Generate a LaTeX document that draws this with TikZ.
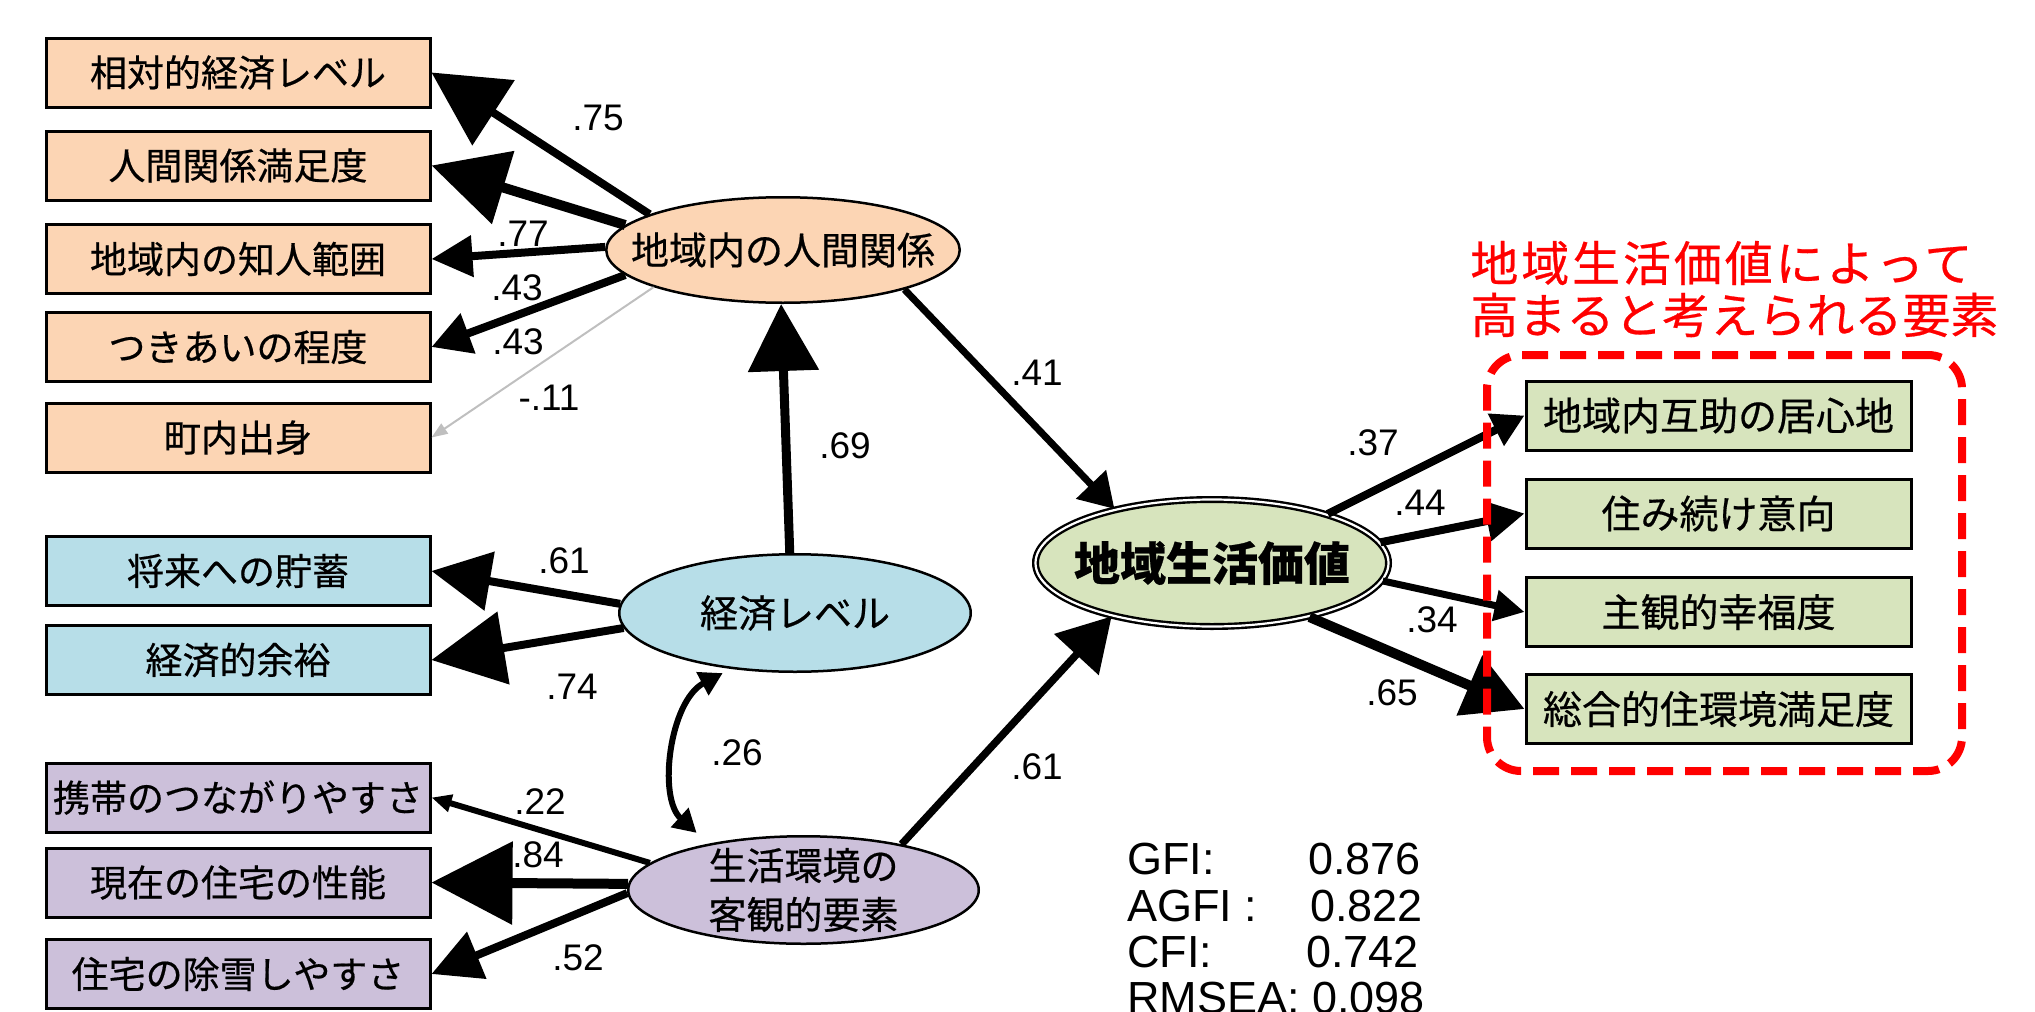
\documentclass[tikz,border=0pt]{standalone}
\usepackage{fontspec}
\setmainfont{Liberation Sans}
\newfontfamily\cjk[FakeBold=0.5]{Noto Sans CJK JP}
\usetikzlibrary{arrows.meta,shapes.geometric}
\definecolor{peach}{RGB}{252,213,180}
\definecolor{lblue}{RGB}{183,222,232}
\definecolor{lpurp}{RGB}{204,192,218}
\definecolor{lgreen}{RGB}{215,228,189}
\definecolor{gr}{RGB}{191,191,191}
\tikzset{
  box/.style={draw,line width=1.5pt,minimum width=192pt,minimum height=34.5pt,inner sep=0pt,font=\cjk\fontsize{18.5}{22}\selectfont},
  rbox/.style={box,fill=lgreen,minimum width=192.5pt,font=\cjk\fontsize{19.5}{23}\selectfont},
  lat/.style={ellipse,draw,line width=1.25pt,inner sep=0pt,font=\cjk\fontsize{19}{23}\selectfont},
  coef/.style={font=\fontsize{18.5}{22}\selectfont,inner sep=0pt},
  stat/.style={font=\fontsize{22.5}{27}\selectfont,inner sep=0pt,anchor=base west},
  redtitle/.style={font=\cjk\fontsize{24}{28}\selectfont,text=red,inner sep=0pt,anchor=west},
  ar/.style n args={3}{line width=#1,-{Triangle[length=#2,width=#3]}}
}
\begin{document}
\begin{tikzpicture}[x=0.5pt,y=-0.5pt]
\useasboundingbox (0,0) rectangle (2035,1012);

% observed variables (left)
\node[box,fill=peach] (a1) at (238,72.5) {相対的経済レベル};
\node[box,fill=peach] (a2) at (238,165.5) {人間関係満足度};
\node[box,fill=peach] (a3) at (238,259) {地域内の知人範囲};
\node[box,fill=peach] (a4) at (238,347) {つきあいの程度};
\node[box,fill=peach] (a5) at (238,437.5) {町内出身};
\node[box,fill=lblue] (b1) at (238,571) {将来への貯蓄};
\node[box,fill=lblue] (b2) at (238,660) {経済的余裕};
\node[box,fill=lpurp] (c1) at (238,797.5) {携帯のつながりやすさ};
\node[box,fill=lpurp] (c2) at (238,882.5) {現在の住宅の性能};
\node[box,fill=lpurp] (c3) at (238,974) {住宅の除雪しやすさ};

% observed variables (right)
\node[rbox] (r1) at (1718.5,415.5) {地域内互助の居心地};
\node[rbox] (r2) at (1718.5,513.5) {住み続け意向};
\node[rbox] (r3) at (1718.5,612) {主観的幸福度};
\node[rbox] (r4) at (1718.5,709) {総合的住環境満足度};

% latent variables
\node[lat,fill=peach,minimum width=176.75pt,minimum height=52.75pt] (A) at (783,250) {\makebox[0pt]{地域内の人間関係}};
\node[lat,fill=lblue,minimum width=175.75pt,minimum height=58.75pt] (B) at (795,613) {\makebox[0pt]{経済レベル}};
\node[lat,fill=lpurp,minimum width=175.25pt,minimum height=53.75pt,
  label={[name=Ct,font=\cjk\fontsize{19}{24.5}\selectfont,align=center,inner sep=0pt]center:{生活環境の\\客観的要素}}] (C) at (803.5,890) {};
\node[ellipse,draw,fill=lgreen,line width=1.2pt,double,double distance=1.1pt,inner sep=0pt,
  minimum width=176.5pt,minimum height=63.5pt,font=\cjk\bfseries\fontsize{23}{27}\selectfont] (D) at (1212,563) {\makebox[0pt]{地域生活価値}};

% coefficients
\node[coef] (l75) at (598,118) {.75};
\node[coef] (l77) at (523,234) {.77};
\node[coef] (l43a) at (517,288) {.43};
\node[coef] (l43b) at (518,342) {.43};
\node[coef] (l11) at (549,398) {-.11};
\node[coef] (l69) at (845,446) {.69};
\node[coef] (l41) at (1037,373) {.41};
\node[coef] (l61a) at (564,561) {.61};
\node[coef] (l74) at (572,687) {.74};
\node[coef] (l26) at (737,753) {.26};
\node[coef] (l22) at (540,802) {.22};
\node[coef] (l84) at (538,855) {.84};
\node[coef] (l52) at (578,958) {.52};
\node[coef] (l61b) at (1037,767) {.61};
\node[coef] (l37) at (1373,443) {.37};
\node[coef] (l44) at (1420,503) {.44};
\node[coef] (l34) at (1432,620) {.34};
\node[coef] (l65) at (1392,693) {.65};

% paths
\draw[ar={4pt}{37pt}{38pt}] (A.165) -- (a1.east);
\draw[ar={5pt}{37.5pt}{37pt}] (A.171) -- (a2.east);
\draw[ar={4pt}{20.5pt}{20pt}] (A.179) -- (a3.east);
\draw[ar={4pt}{19.5pt}{20.5pt}] (A.189) -- (a4.east);
\draw[ar={1pt}{8pt}{6pt},draw=gr] (A.196) -- (a5.east);
\draw[ar={4.5pt}{33.5pt}{34.5pt}] (B.95) -- (A.268);
\draw[ar={3.5pt}{17pt}{20pt}] (A.342) -- (D.151);
\draw[ar={4pt}{29.5pt}{29pt}] (B.177) -- (b1.east);
\draw[ar={4pt}{36.5pt}{36pt}] (B.185) -- (b2.east);
\draw[line width=3pt,{Triangle[length=11.5pt,width=12.5pt]}-{Triangle[length=11.5pt,width=12.5pt]},
  shorten <=4.5pt,shorten >=8pt] (B.221) to[bend right=55] (C.154);
\draw[ar={3pt}{10pt}{8.5pt}] (C.170) -- (c1.east);
\draw[ar={5pt}{40.5pt}{40.5pt}] (C.178) -- (c2.east);
\draw[ar={4pt}{24.5pt}{24.5pt}] (C.181) -- (c3.east);
\draw[ar={3.75pt}{26pt}{29.5pt}] (C.25) -- (D.208);
\draw[ar={4pt}{16pt}{17pt}] (D.23) -- (r1.west);
\draw[ar={4pt}{19pt}{19.5pt}] (D.7) -- (r2.west);
\draw[ar={3.5pt}{15pt}{15pt}] (D.354) -- (r3.west);
\draw[ar={5pt}{30pt}{31.5pt}] (D.331) -- (r4.west);

% group frame and title
\node[draw=red,line width=4pt,dash pattern=on 13pt off 6pt,rounded corners=17pt,
  minimum width=237.5pt,minimum height=208pt,inner sep=0pt] (grp) at (1724.5,563) {};
\node[redtitle] (t1) at (1470,263) {\addfontfeature{LetterSpace=6}地域生活価値によって};
\node[redtitle] (t2) at (1470,315) {高まると考えられる要素};

% fit indices
\node[stat] (g1) at (1127,874) {GFI:};
\node[stat] (g1v) at (1308,874) {0.876};
\node[stat] (g2) at (1127,921) {AGFI :};
\node[stat] (g2v) at (1310,921) {0.822};
\node[stat] (g3) at (1127,967) {CFI:};
\node[stat] (g3v) at (1306,967) {0.742};
\node[stat] (g4) at (1127,1013) {RMSEA: 0.098};
\end{tikzpicture}
\end{document}
